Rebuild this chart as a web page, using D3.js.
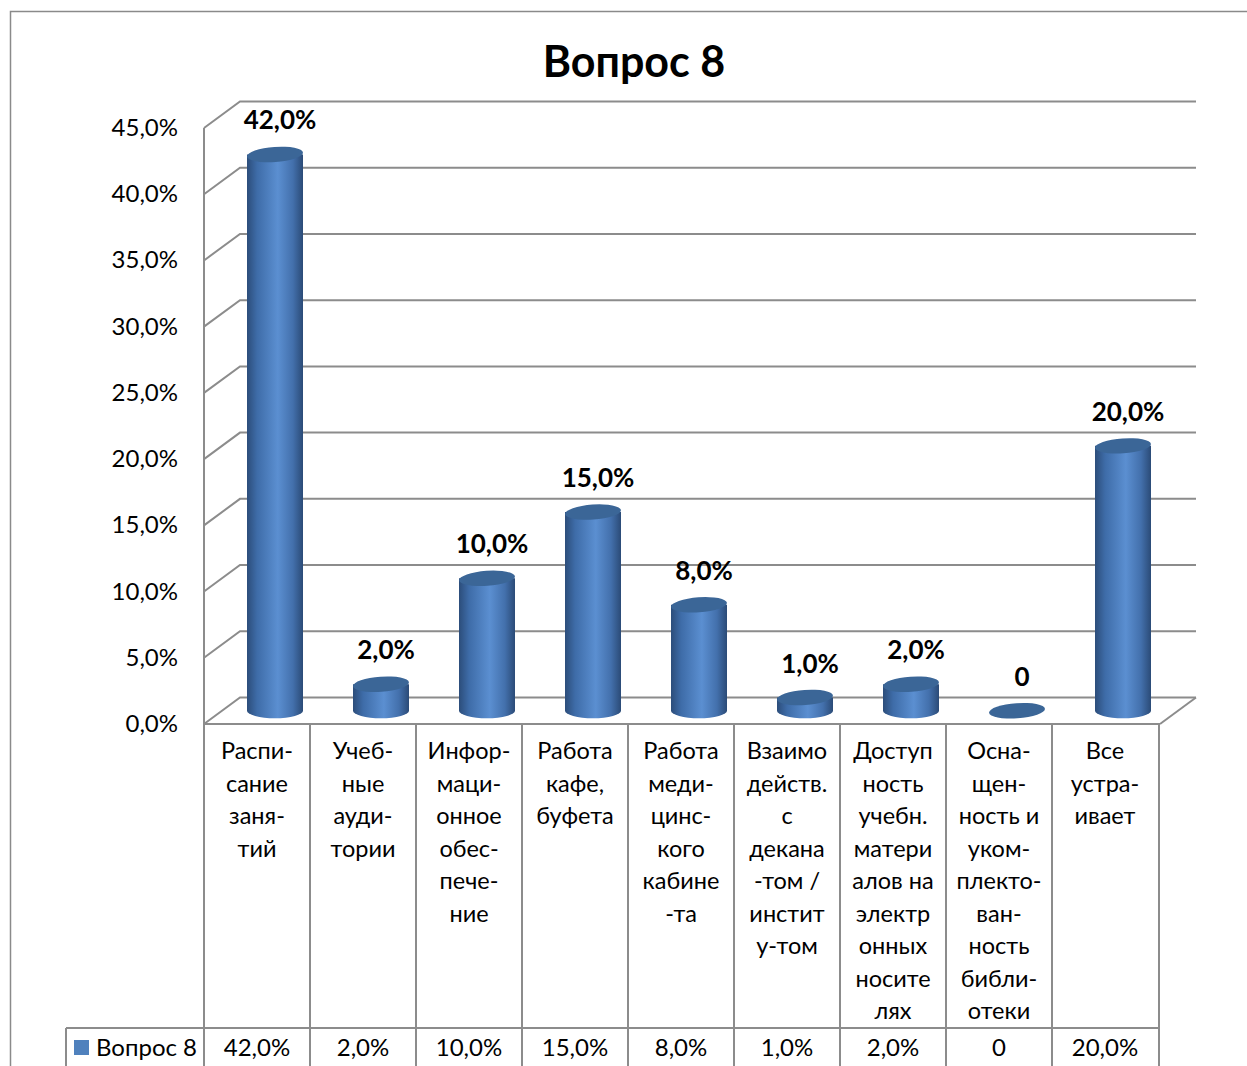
<!DOCTYPE html>
<html>
<head>
<meta charset="utf-8">
<script src="https://cdn.jsdelivr.net/npm/d3@7"></script>
<style>
  body { margin: 0; background: #fff; }
  svg { display: block; font-family: Lato, "Noto Sans", sans-serif; }
</style>
</head>
<body>
<div id="chart"></div>
<script>
// data
const seriesName = "Вопрос 8";
const values = [42, 2, 10, 15, 8, 1, 2, 0, 20];
const categoryLines = [
    ["Распи-", "сание", "заня-", "тий"],
    ["Учеб-", "ные", "ауди-", "тории"],
    ["Инфор-", "маци-", "онное", "обес-", "пече-", "ние"],
    ["Работа", "кафе,", "буфета"],
    ["Работа", "меди-", "цинс-", "кого", "кабине", "-та"],
    ["Взаимо", "действ.", "с", "декана", "-том /", "инстит", "у-том"],
    ["Доступ", "ность", "учебн.", "матери", "алов на", "электр", "онных", "носите", "лях"],
    ["Осна-", "щен-", "ность и", "уком-", "плекто-", "ван-", "ность", "библи-", "отеки"],
    ["Все", "устра-", "ивает"]
];
const yTicks = [0, 5, 10, 15, 20, 25, 30, 35, 40, 45];

const width = 1247, height = 1066;
const fmt = v => v === 0 ? "0" : v.toFixed(1).replace(".", ",") + "%";

// 3d depth of the plot box
const depthX = 36, depthY = -26.5;
const gridColor = "#8c8c8c";

let svg = d3.select("#chart")
    .append("svg")
    .attr("width", width)
    .attr("height", height);

let x = d3.scaleBand()
    .domain(d3.range(values.length))
    .range([204, 1158]);

let y = d3.scaleLinear()
    .domain([0, 45])
    .range([724, 128]);

// gradient for cylinder bodies
let defs = svg.append("defs");
let grad = defs.append("linearGradient")
    .attr("id", "cyl")
    .attr("x1", "0%").attr("x2", "100%").attr("y1", "0%").attr("y2", "0%");
[["0%", "#2c4d7a"], ["18%", "#3e6ca8"], ["55%", "#5b8fd1"], ["82%", "#4370ac"], ["100%", "#2b4b77"]]
    .forEach(s => grad.append("stop").attr("offset", s[0]).attr("stop-color", s[1]));

// outer chart border
svg.append("path")
    .attr("d", `M10.5,${height + 2} V11.5 H${width + 2}`)
    .attr("fill", "none")
    .attr("stroke", "#8a8a8a")
    .attr("stroke-width", 1.5);

// title
svg.append("text")
    .attr("x", 634)
    .attr("y", 77)
    .attr("text-anchor", "middle")
    .style("font-size", "43px")
    .style("font-weight", "bold")
    .text(seriesName);

// walls: side wall diagonals + back wall gridlines
let walls = svg.append("g")
    .attr("stroke", gridColor)
    .attr("stroke-width", 2)
    .attr("fill", "none");

walls.selectAll("path.grid")
    .data(yTicks)
    .join("path")
    .attr("class", "grid")
    .attr("d", t => `M${x.range()[0]},${y(t)} L${x.range()[0] + depthX},${y(t) + depthY} H${x.range()[1] + depthX + 2}`);

// side wall front edge
walls.append("line")
    .attr("x1", x.range()[0]).attr("x2", x.range()[0])
    .attr("y1", y(45)).attr("y2", y(0));

// floor right edge
walls.append("line")
    .attr("x1", x.range()[1] + 2).attr("y1", y(0))
    .attr("x2", x.range()[1] + depthX + 2).attr("y2", y(0) + depthY);

// y axis labels
svg.append("g")
    .selectAll("text")
    .data(yTicks)
    .join("text")
    .attr("x", 178)
    .attr("y", t => y(t) + 8)
    .attr("text-anchor", "end")
    .style("font-size", "24px")
    .text(t => t.toFixed(1).replace(".", ",") + "%");

// cylinders
const rx = 28, ry = 7.5;
const midX = depthX / 2, midY = depthY / 2;

let bars = svg.append("g")
    .selectAll("g")
    .data(values)
    .join("g")
    .attr("transform", (d, i) => `translate(${x(i) + x.bandwidth() / 2 + midX},0)`);

bars.filter(d => d > 0)
    .append("path")
    .attr("fill", "url(#cyl)")
    .attr("d", d => {
        let top = y(d) + midY, bot = y(0) + midY;
        return `M${-rx},${top} V${bot} A${rx},${ry} 0 0 0 ${rx},${bot} V${top} Z`;
    });

bars.append("ellipse")
    .attr("cx", 0)
    .attr("cy", d => y(d) + midY)
    .attr("rx", rx)
    .attr("ry", ry)
    .attr("transform", d => `rotate(-4,0,${y(d) + midY})`)
    .attr("fill", "#3b6697");

// value labels
bars.append("text")
    .attr("x", 5)
    .attr("y", d => y(d) + midY - 25)
    .attr("text-anchor", "middle")
    .style("font-size", "26px")
    .style("font-weight", "bold")
    .text(fmt);

// data table
let table = svg.append("g")
    .attr("stroke", gridColor)
    .attr("stroke-width", 2);

table.append("line")
    .attr("x1", x.range()[0]).attr("x2", x.range()[1] + 2)
    .attr("y1", y(0)).attr("y2", y(0));
table.append("line")
    .attr("x1", 66).attr("x2", x.range()[1] + 2)
    .attr("y1", 1028).attr("y2", 1028);
table.append("line")
    .attr("x1", 66).attr("x2", 66)
    .attr("y1", 1028).attr("y2", height + 2);
table.selectAll("line.col")
    .data(d3.range(values.length + 1))
    .join("line")
    .attr("class", "col")
    .attr("x1", i => i < values.length ? x(i) : x.range()[1] + 1)
    .attr("x2", i => i < values.length ? x(i) : x.range()[1] + 1)
    .attr("y1", y(0))
    .attr("y2", height + 2);

// category headers
let heads = svg.append("g")
    .selectAll("text")
    .data(categoryLines)
    .join("text")
    .attr("text-anchor", "middle")
    .style("font-size", "23.5px");

heads.selectAll("tspan")
    .data((lines, i) => lines.map(l => ({ l: l, i: i })))
    .join("tspan")
    .attr("x", d => x(d.i) + x.bandwidth() / 2)
    .attr("y", (d, j) => 759 + j * 32.5)
    .text(d => d.l);

// value row
svg.append("g")
    .selectAll("text")
    .data(values)
    .join("text")
    .attr("x", (d, i) => x(i) + x.bandwidth() / 2)
    .attr("y", 1056)
    .attr("text-anchor", "middle")
    .style("font-size", "24px")
    .text(fmt);

// legend key in the table
svg.append("rect")
    .attr("x", 74).attr("y", 1040)
    .attr("width", 15).attr("height", 15)
    .attr("fill", "#4f81bd");
svg.append("text")
    .attr("x", 96)
    .attr("y", 1056)
    .style("font-size", "24px")
    .text(seriesName);
</script>
</body>
</html>
